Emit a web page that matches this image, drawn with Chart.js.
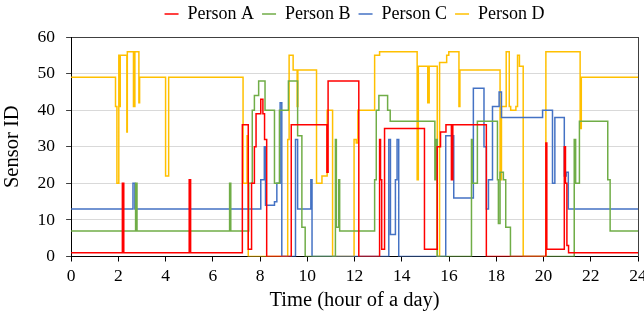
<!DOCTYPE html>
<html>
<head>
<meta charset="utf-8">
<script src="https://cdn.jsdelivr.net/npm/chart.js@4/dist/chart.umd.min.js"></script>
<style>
  body { margin: 0; background: #fff; }
</style>
</head>
<body>
<canvas id="myChart" width="644" height="314"></canvas>
<script>
// each pair: time (hour) where the sensor changes, sensor id held until next time
const personATimes = [0, 2.17, 2.23, 5.0, 5.06, 7.25, 7.5, 7.64, 7.76, 7.83, 8.03, 8.12, 8.19, 8.28, 9.32, 10.83, 10.88, 12.18, 13.06, 13.1, 13.15, 13.27, 14.96, 15.5, 15.64, 15.87, 16.1, 16.16, 17.58, 20.1, 20.14, 20.88, 20.93, 20.99, 21.06, 24];
const personASensors = [1, 20, 1, 21, 1, 36, 2, 20, 30, 39, 43, 39, 32, 0, 36, 23, 48, 0, 32, 21, 2, 35, 2, 30, 34, 36, 21, 36, 0, 31, 2, 30, 20, 3, 1, 1];

const personBTimes = [0, 2.73, 2.79, 6.71, 6.76, 7.52, 7.67, 7.76, 7.94, 8.21, 8.61, 8.82, 9.2, 9.59, 9.77, 9.91, 11.19, 11.23, 11.33, 11.37, 12.85, 12.92, 13.03, 13.4, 13.51, 15.4, 15.45, 15.5, 16.95, 16.98, 17.2, 18.05, 18.09, 18.16, 18.3, 18.4, 18.6, 21.3, 21.36, 21.52, 22.72, 22.82, 24];
const personBSensors = [7, 20, 7, 20, 7, 20, 40, 44, 48, 40, 20, 40, 48, 33, 8, 0, 32, 8, 21, 7, 21, 40, 44, 40, 37, 21, 32, 0, 32, 20, 37, 21, 9, 23, 21, 8, 0, 32, 20, 37, 21, 7, 7];

const personCTimes = [0, 2.62, 2.7, 8.03, 8.18, 8.23, 8.61, 8.71, 8.85, 8.92, 9.5, 9.59, 10.15, 10.2, 13.45, 13.52, 13.73, 13.8, 13.87, 15.86, 16.2, 17.03, 17.48, 17.58, 17.67, 17.84, 18.12, 18.22, 19.96, 20.38, 20.48, 20.88, 20.96, 21.05, 24];
const personCSensors = [13, 20, 13, 21, 30, 14, 15, 20, 42, 0, 32, 13, 21, 0, 32, 6, 21, 32, 0, 33, 16, 46, 30, 13, 21, 41, 45, 38, 40, 20, 38, 22, 23, 13, 13];

const personDTimes = [0, 1.88, 1.94, 2.02, 2.06, 2.08, 2.36, 2.38, 2.64, 2.7, 2.87, 2.9, 4.0, 4.13, 7.28, 7.45, 7.5, 9.17, 9.23, 9.4, 9.57, 9.6, 10.39, 10.62, 10.84, 11.07, 11.98, 12.07, 12.14, 12.85, 13.06, 14.65, 14.7, 15.1, 15.16, 15.5, 15.6, 15.9, 15.99, 16.42, 16.46, 18.16, 18.22, 18.42, 18.55, 18.61, 18.83, 18.9, 18.98, 19.14, 20.1, 21.55, 21.6, 24];
const personDSensors = [49, 41, 20, 55, 41, 55, 34, 56, 41, 56, 42, 49, 22, 49, 20, 33, 0, 32, 55, 51, 41, 51, 20, 22, 40, 0, 32, 31, 40, 55, 56, 21, 52, 42, 52, 0, 53, 55, 56, 41, 51, 21, 41, 56, 41, 40, 41, 55, 52, 0, 56, 35, 49, 49];

const personNames = ['Person A', 'Person B', 'Person C', 'Person D'];
const personColors = ['#FF0000', '#70AD47', '#4472C4', '#FFC000'];

const yTicks = [0, 10, 20, 30, 40, 50, 60];
const xTicks = [0, 2, 4, 6, 8, 10, 12, 14, 16, 18, 20, 22, 24];

function toPoints(times, sensors) {
    return times.map((t, i) => ({ x: t, y: sensors[i] }));
}

const allTimes = [personATimes, personBTimes, personCTimes, personDTimes];
const allSensors = [personASensors, personBSensors, personCSensors, personDSensors];

const datasets = personNames.map((name, i) => ({
    label: name,
    data: toPoints(allTimes[i], allSensors[i]),
    borderColor: personColors[i],
    backgroundColor: personColors[i],
    borderWidth: 1.5,
    pointRadius: 0,
    stepped: 'before',
    fill: false
}));

const serif = 'Liberation Serif';

new Chart(document.getElementById('myChart'), {
    type: 'line',
    data: { datasets: datasets },
    options: {
        responsive: false,
        animation: false,
        layout: { padding: { top: -3, left: 0, bottom: 3 } },
        plugins: {
            legend: {
                position: 'top',
                fullSize: false,
                labels: {
                    font: { family: serif, size: 18 },
                    color: '#000',
                    usePointStyle: true,
                    pointStyle: 'line',
                    pointStyleWidth: 14,
                    padding: 8
                }
            },
            tooltip: { enabled: false }
        },
        scales: {
            x: {
                type: 'linear',
                min: 0,
                max: 24,
                afterBuildTicks: (s) => { s.ticks = xTicks.map(v => ({ value: v })); },
                afterFit: (s) => { s.paddingRight = 6; },
                ticks: { font: { family: serif, size: 17.5 }, color: '#000', padding: 4, maxRotation: 0 },
                grid: { drawOnChartArea: false, color: '#000', tickLength: 5 },
                border: { color: '#000' },
                title: { display: true, text: 'Time (hour of a day)', font: { family: serif, size: 20.5, lineHeight: 1.0 }, color: '#000', padding: { top: 0, bottom: 0 } }
            },
            // top and right axes only draw the frame of the plot area
            xTop: {
                type: 'linear',
                position: 'top',
                min: 0,
                max: 24,
                ticks: { display: false },
                grid: { drawOnChartArea: false, drawTicks: false },
                border: { color: '#404040' },
                afterFit: (s) => { s.height = 4; }
            },
            y: {
                min: 0,
                max: 60,
                afterBuildTicks: (s) => { s.ticks = yTicks.map(v => ({ value: v })); },
                ticks: { font: { family: serif, size: 17.5 }, color: '#000', padding: 11 },
                grid: { color: '#d9d9d9', tickLength: 5, tickColor: '#404040' },
                border: { color: '#000' },
                title: { display: true, text: 'Sensor ID', font: { family: serif, size: 20.5 }, color: '#000', padding: { top: 0, bottom: 2 } }
            },
            yRight: {
                position: 'right',
                min: 0,
                max: 60,
                ticks: { display: false },
                grid: { drawOnChartArea: false, drawTicks: false },
                border: { color: '#404040' },
                afterFit: (s) => { s.width = 0; }
            }
        }
    }
});
</script>
</body>
</html>
